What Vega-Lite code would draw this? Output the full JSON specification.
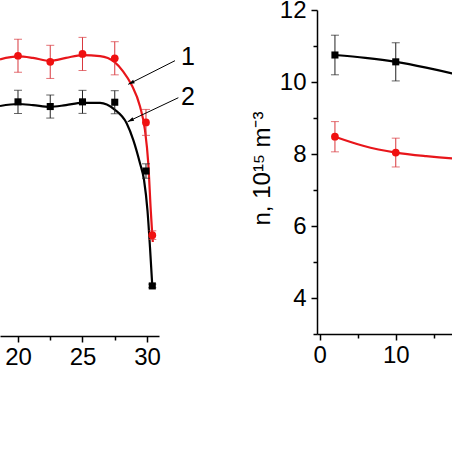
{
  "$schema": "https://vega.github.io/schema/vega-lite/v6.json",
  "padding": {"left": -5, "top": -2, "right": 0, "bottom": 0},
  "bounds": "flush",
  "spacing": 158,
  "config": {
    "view": {"stroke": null},
    "font": "Liberation Sans",
    "axis": {
      "domainColor": "black", "domainWidth": 1.5, "tickColor": "black", "tickWidth": 1.5,
      "labelFont": "Liberation Sans", "labelFontSize": 24, "labelColor": "black",
      "labelFlush": false, "labelOverlap": false, "grid": false,
      "titleFont": "Liberation Sans", "titleFontSize": 24, "titleFontWeight": "normal", "titleColor": "black"
    }
  },
  "datasets": {
    "lRedCurve": [
      {"x": 18.605, "y": 10.63}, {"x": 20.02, "y": 10.71}, {"x": 21.16, "y": 10.67}, {"x": 22.48, "y": 10.59},
      {"x": 23.72, "y": 10.67}, {"x": 24.98, "y": 10.75}, {"x": 26.36, "y": 10.72}, {"x": 27.47, "y": 10.56},
      {"x": 28.16, "y": 10.29}, {"x": 28.81, "y": 9.92}, {"x": 29.46, "y": 9.32}, {"x": 29.84, "y": 8.67},
      {"x": 30.10, "y": 7.74}, {"x": 30.29, "y": 6.45}, {"x": 30.41, "y": 5.75}, {"x": 30.45, "y": 5.56}
    ],
    "lBlackCurve": [
      {"x": 18.605, "y": 9.335}, {"x": 20.02, "y": 9.39}, {"x": 21.16, "y": 9.36}, {"x": 22.48, "y": 9.31},
      {"x": 23.72, "y": 9.36}, {"x": 24.98, "y": 9.42}, {"x": 26.36, "y": 9.42}, {"x": 27.47, "y": 9.24},
      {"x": 28.43, "y": 8.85}, {"x": 28.94, "y": 8.39}, {"x": 29.46, "y": 7.74}, {"x": 29.77, "y": 7.28},
      {"x": 30.04, "y": 6.42}, {"x": 30.23, "y": 5.42}, {"x": 30.41, "y": 4.34}
    ],
    "lRedPts": [
      {"x": 20, "y": 10.73, "e": 0.46}, {"x": 22.5, "y": 10.56, "e": 0.46}, {"x": 25, "y": 10.78, "e": 0.46},
      {"x": 27.5, "y": 10.66, "e": 0.46}, {"x": 29.92, "y": 8.88, "e": 0.36}, {"x": 30.41, "y": 5.75, "e": 0.12}
    ],
    "lBlackPts": [
      {"x": 20, "y": 9.45, "e": 0.32}, {"x": 22.5, "y": 9.32, "e": 0.32}, {"x": 25, "y": 9.45, "e": 0.32},
      {"x": 27.5, "y": 9.44, "e": 0.32}, {"x": 29.92, "y": 7.53, "e": 0.2}, {"x": 30.41, "y": 4.34, "e": 0.05}
    ],
    "arrows": [
      {"x": 32.17, "y": 10.593, "x2": 28.55, "y2": 9.937},
      {"x": 32.43, "y": 9.565, "x2": 28.50, "y2": 8.899}
    ],
    "labels": [
      {"x": 33.18, "y": 10.70, "t": "1"},
      {"x": 33.18, "y": 9.593, "t": "2"}
    ],
    "rBlackCurve": [
      {"x": 2, "y": 10.75}, {"x": 6, "y": 10.67}, {"x": 10, "y": 10.56}, {"x": 14, "y": 10.40}, {"x": 17.4, "y": 10.24}, {"x": 20, "y": 10.1}
    ],
    "rRedCurve": [
      {"x": 2, "y": 8.48}, {"x": 5.7, "y": 8.23}, {"x": 10, "y": 8.04}, {"x": 14, "y": 7.94}, {"x": 17.4, "y": 7.88}, {"x": 20, "y": 7.85}
    ],
    "rBlackPts": [
      {"x": 2, "y": 10.75, "e": 0.55}, {"x": 10, "y": 10.56, "e": 0.53}
    ],
    "rRedPts": [
      {"x": 2, "y": 8.48, "e": 0.42}, {"x": 10, "y": 8.04, "e": 0.40}
    ]
  },
  "hconcat": [
    {
      "width": 159,
      "height": 326,
      "encoding": {
        "x": {"field": "x", "type": "quantitative",
          "scale": {"domain": [18.605, 30.93], "zero": false, "nice": false},
          "axis": {"title": null, "values": [20, 22.5, 25, 27.5, 30],
            "labelExpr": "datum.value % 5 === 0 ? datum.label : ''",
            "tickSize": {"condition": {"test": "datum.value % 5 === 0", "value": 6}, "value": 4},
            "labelPadding": 3}},
        "y": {"field": "y", "type": "quantitative",
          "scale": {"domain": [2.95, 12], "zero": false, "nice": false},
          "axis": null}
      },
      "layer": [
        {"data": {"name": "lRedCurve"}, "mark": {"type": "line", "color": "#e8161b", "strokeWidth": 2.2, "interpolate": "monotone"}},
        {"data": {"name": "lBlackCurve"}, "mark": {"type": "line", "color": "#000000", "strokeWidth": 2.2, "interpolate": "monotone"}},
        {"data": {"name": "lRedPts"}, "mark": {"type": "errorbar", "ticks": {"size": 8, "color": "#d9373d"}, "rule": {"color": "#d9373d", "strokeWidth": 1}},
          "encoding": {"yError": {"field": "e"}}},
        {"data": {"name": "lBlackPts"}, "mark": {"type": "errorbar", "ticks": {"size": 8, "color": "#222222"}, "rule": {"color": "#222222", "strokeWidth": 1}},
          "encoding": {"yError": {"field": "e"}}},
        {"data": {"name": "lRedPts"}, "mark": {"type": "point", "shape": "circle", "filled": true, "opacity": 1, "color": "#f01010", "size": 60}},
        {"data": {"name": "lBlackPts"}, "mark": {"type": "point", "shape": "square", "filled": true, "opacity": 1, "color": "#000000", "size": 50}},
        {"data": {"name": "arrows"}, "mark": {"type": "rule", "color": "#000000", "strokeWidth": 1},
          "encoding": {"x2": {"field": "x2"}, "y2": {"field": "y2"}}},
        {"data": {"name": "arrows"}, "mark": {"type": "point", "shape": "M0,0L-0.3,1L0.3,1Z", "filled": true, "opacity": 1, "color": "#000000", "size": 160, "angle": 244},
          "encoding": {"x": {"field": "x2", "type": "quantitative"}, "y": {"field": "y2", "type": "quantitative"}}},
        {"data": {"name": "labels"}, "mark": {"type": "text", "font": "Liberation Sans", "fontSize": 25, "align": "center", "baseline": "middle", "color": "#000000"},
          "encoding": {"text": {"field": "t"}}}
      ]
    },
    {
      "width": 135,
      "height": 324,
      "encoding": {
        "x": {"field": "x", "type": "quantitative",
          "scale": {"domain": [-0.36, 17.4], "zero": false, "nice": false},
          "axis": {"title": null, "values": [0, 5, 10, 15],
            "labelExpr": "datum.value % 10 === 0 ? datum.label : ''",
            "tickSize": {"condition": {"test": "datum.value % 10 === 0", "value": 6}, "value": 4},
            "labelPadding": 3}},
        "y": {"field": "y", "type": "quantitative",
          "scale": {"domain": [3, 12], "zero": false, "nice": false},
          "axis": {"title": "n, 10¹⁵ m⁻³", "values": [3, 4, 5, 6, 7, 8, 9, 10, 11, 12],
            "labelExpr": "datum.value % 2 === 0 ? datum.label : ''",
            "tickSize": {"condition": {"test": "datum.value % 2 === 0", "value": 6}, "value": 4},
            "labelPadding": 5,
            "titleX": -55, "titleY": 158, "titleAngle": -90, "titleAlign": "center", "titleBaseline": "middle"}}
      },
      "layer": [
        {"data": {"name": "rBlackCurve"}, "mark": {"type": "line", "color": "#000000", "strokeWidth": 2.2, "interpolate": "monotone", "clip": true}},
        {"data": {"name": "rRedCurve"}, "mark": {"type": "line", "color": "#e8161b", "strokeWidth": 2.2, "interpolate": "monotone", "clip": true}},
        {"data": {"name": "rRedPts"}, "mark": {"type": "errorbar", "ticks": {"size": 8, "color": "#d9373d"}, "rule": {"color": "#d9373d", "strokeWidth": 1}},
          "encoding": {"yError": {"field": "e"}}},
        {"data": {"name": "rBlackPts"}, "mark": {"type": "errorbar", "ticks": {"size": 8, "color": "#222222"}, "rule": {"color": "#222222", "strokeWidth": 1}},
          "encoding": {"yError": {"field": "e"}}},
        {"data": {"name": "rRedPts"}, "mark": {"type": "point", "shape": "circle", "filled": true, "opacity": 1, "color": "#f01010", "size": 60}},
        {"data": {"name": "rBlackPts"}, "mark": {"type": "point", "shape": "square", "filled": true, "opacity": 1, "color": "#000000", "size": 50}}
      ]
    }
  ]
}
